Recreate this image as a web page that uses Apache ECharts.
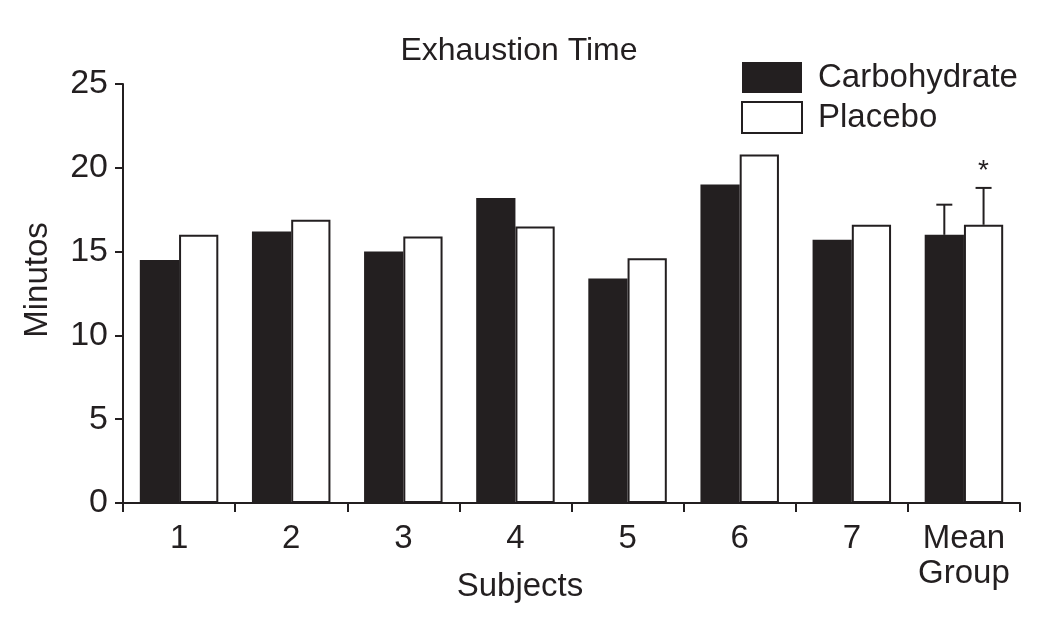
<!DOCTYPE html>
<html>
<head>
<meta charset="utf-8">
<script src="https://cdn.jsdelivr.net/npm/echarts@6/dist/echarts.min.js"></script>
<style>
html,body{margin:0;padding:0;background:#fff;}
#chart{width:1054px;height:620px;}
</style>
</head>
<body>
<div id="chart"></div>
<script>
const categories = ['1', '2', '3', '4', '5', '6', '7', 'Mean\nGroup'];
const carbohydrate = [14.5, 16.2, 15.0, 18.2, 13.4, 19.0, 15.7, 16.0];
const placebo = [16.0, 16.9, 15.9, 16.5, 14.6, 20.8, 16.6, 16.6];
const carbohydrateSD = 1.8;
const placeboSD = 2.2;
const yTicks = [0, 5, 10, 15, 20, 25];

const INK = '#231f20';
const FONT = '"Liberation Sans", Arial, Helvetica, sans-serif';
const CAT_GAP = 0.30;

const meanIdx = categories.length - 1;
const errData = [
  [meanIdx, carbohydrate[meanIdx], carbohydrate[meanIdx] + carbohydrateSD, -1, 0],
  [meanIdx, placebo[meanIdx], placebo[meanIdx] + placeboSD, 1, 1]
];

const chart = echarts.init(document.getElementById('chart'));
chart.setOption({
  animation: false,
  backgroundColor: '#fff',
  textStyle: { fontFamily: FONT, color: INK },
  grid: { left: 123, right: 34, top: 84, bottom: 117 },
  legend: {
    orient: 'vertical',
    left: 741, top: 61,
    padding: 0,
    icon: 'rect',
    itemWidth: 60, itemHeight: 31, itemGap: 7,
    data: ['Carbohydrate', 'Placebo'],
    textStyle: { fontFamily: FONT, fontSize: 33, color: INK, lineHeight: 31, padding: [0, 0, 0, 11] }
  },
  xAxis: {
    type: 'category',
    data: categories,
    boundaryGap: true,
    axisLine: { lineStyle: { color: INK, width: 2 } },
    axisTick: { show: true, length: 9, lineStyle: { color: INK, width: 2 } },
    axisLabel: { fontFamily: FONT, fontSize: 33, color: INK, margin: 18, lineHeight: 35, interval: 0 },
    splitLine: { show: false }
  },
  yAxis: {
    type: 'value',
    min: yTicks[0], max: yTicks[yTicks.length - 1], interval: 5,
    axisLine: { show: true, lineStyle: { color: INK, width: 2 } },
    axisTick: { show: true, length: 8, lineStyle: { color: INK, width: 2 } },
    axisLabel: { fontFamily: FONT, fontSize: 34, color: INK, margin: 15 },
    splitLine: { show: false }
  },
  graphic: [
    { type: 'text', x: 519, y: 51, style: { text: 'Exhaustion Time', font: '32px ' + FONT, fill: INK, textAlign: 'center', textVerticalAlign: 'middle' } },
    { type: 'text', x: 520, y: 587, style: { text: 'Subjects', font: '33px ' + FONT, fill: INK, textAlign: 'center', textVerticalAlign: 'middle' } },
    { type: 'text', x: 38, y: 280, rotation: Math.PI / 2, style: { text: 'Minutos', font: '33px ' + FONT, fill: INK, textAlign: 'center', textVerticalAlign: 'middle' } }
  ],
  series: [
    {
      name: 'Carbohydrate', type: 'bar', data: carbohydrate,
      barGap: '0%', barCategoryGap: (CAT_GAP * 100) + '%',
      itemStyle: { color: INK }
    },
    {
      name: 'Placebo', type: 'bar', data: placebo,
      barGap: '0%', barCategoryGap: (CAT_GAP * 100) + '%',
      itemStyle: { color: '#ffffff', borderColor: INK, borderWidth: 2 }
    },
    {
      name: 'error', type: 'custom', z: 5,
      data: errData,
      encode: { x: 0, y: [1, 2] },
      renderItem: function (params, api) {
        const idx = api.value(0);
        const low = api.coord([idx, api.value(1)]);
        const high = api.coord([idx, api.value(2)]);
        const side = api.value(3);
        const band = api.size([1, 0])[0];
        const bw = band * (1 - CAT_GAP) / 2;
        const cx = low[0] + side * bw / 2;
        const cap = 8;
        const children = [
          { type: 'line', shape: { x1: cx, y1: low[1], x2: cx, y2: high[1] }, style: { stroke: INK, lineWidth: 2 } },
          { type: 'line', shape: { x1: cx - cap, y1: high[1], x2: cx + cap, y2: high[1] }, style: { stroke: INK, lineWidth: 2 } }
        ];
        if (api.value(4) === 1) {
          children.push({ type: 'text', x: cx, y: high[1] - 17, style: { text: '*', font: '28px ' + FONT, fill: INK, textAlign: 'center', textVerticalAlign: 'middle' } });
        }
        return { type: 'group', children: children };
      }
    }
  ]
});
</script>
</body>
</html>
